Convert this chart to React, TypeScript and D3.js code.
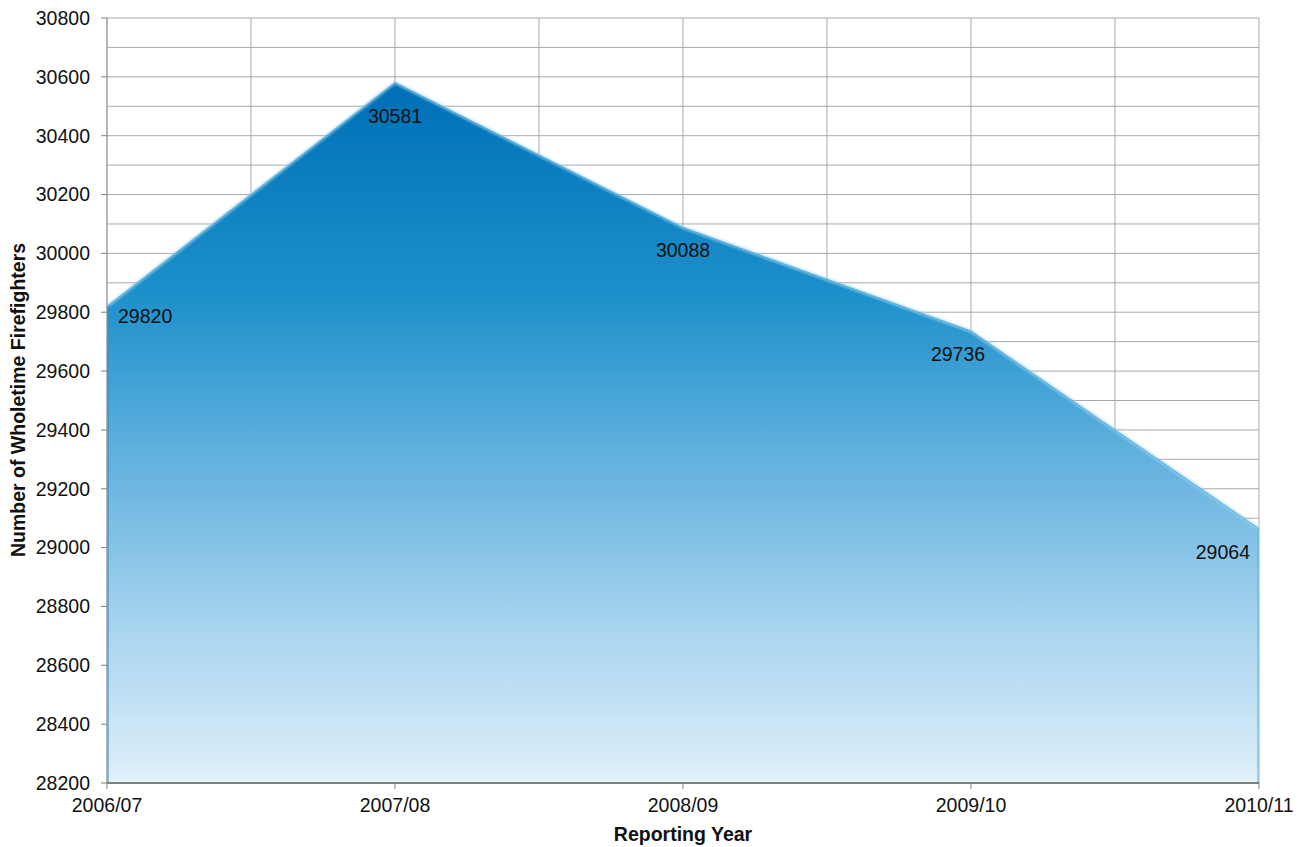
import React from "react";
import * as d3 from "d3";

const years = ["2006/07", "2007/08", "2008/09", "2009/10", "2010/11"];
const firefighters = [29820, 30581, 30088, 29736, 29064];
const yTicks = [28200, 28400, 28600, 28800, 29000, 29200, 29400, 29600, 29800, 30000, 30200, 30400, 30600, 30800];

const W = 1307;
const H = 847;
const M = { left: 107, right: 48, top: 18, bottom: 64 };
const FONT = "'Liberation Sans', Arial, sans-serif";
const FS = 19.5;

// label offsets (dx, dy from the point) and anchor per point
const labelPos: { dx: number; dy: number; anchor: "start" | "middle" | "end" }[] = [
  { dx: 11, dy: 10, anchor: "start" },
  { dx: 0, dy: 34, anchor: "middle" },
  { dx: 0, dy: 23, anchor: "middle" },
  { dx: -13, dy: 23, anchor: "middle" },
  { dx: -9, dy: 23, anchor: "end" },
];

export default function App() {
  const x = d3.scalePoint<string>().domain(years).range([M.left, W - M.right]);
  const y = d3.scaleLinear().domain([28200, 30800]).range([H - M.bottom, M.top]);
  const step = x.step();

  const pts = years.map((yr, i) => ({ yr, v: firefighters[i], px: x(yr)!, py: y(firefighters[i]) }));
  const area = d3
    .area<(typeof pts)[number]>()
    .x((d) => d.px)
    .y0(y(28200))
    .y1((d) => d.py)(pts)!;
  const topLine = d3
    .line<(typeof pts)[number]>()
    .x((d) => d.px)
    .y((d) => d.py)(pts)!;

  const minor = d3.range(28200, 30801, 100);
  const vGrid = d3.range(0, years.length * 2 - 1).map((k) => M.left + (k * step) / 2);
  const x0 = M.left;
  const x1 = W - M.right;
  const yb = y(28200);

  return (
    <svg width={W} height={H} style={{ position: "absolute", left: 0, top: 0, background: "#fff" }}>
      <defs>
        <linearGradient id="fillGrad" gradientUnits="userSpaceOnUse" x1={0} y1={y(30581)} x2={0} y2={yb}>
          <stop offset="0" stopColor="#006fb6" />
          <stop offset="0.3" stopColor="#1c90ca" />
          <stop offset="0.55" stopColor="#66b3df" />
          <stop offset="0.8" stopColor="#aed7f0" />
          <stop offset="0.97" stopColor="#d6ebf8" />
          <stop offset="1" stopColor="#e6f3fb" />
        </linearGradient>
        <filter id="soft" x="-5%" y="-5%" width="110%" height="110%">
          <feGaussianBlur stdDeviation="0.8" />
        </filter>
      </defs>

      {/* gridlines */}
      {minor.map((v) => (
        <line key={"h" + v} x1={x0} x2={x1} y1={y(v)} y2={y(v)} stroke="#a9a9a9" strokeWidth={1} />
      ))}
      {vGrid.map((gx, k) => (
        <line key={"v" + k} x1={gx} x2={gx} y1={M.top} y2={yb} stroke="#a9a9a9" strokeWidth={1} />
      ))}

      {/* area */}
      <path d={area} fill="url(#fillGrad)" />
      <path d={topLine} fill="none" stroke="#9fd6f3" strokeWidth={3} filter="url(#soft)" opacity={0.8} />
      <path d={topLine} fill="none" stroke="#3d9ccf" strokeWidth={1} opacity={0.7} />
      <line x1={x0 + 1} x2={x0 + 1} y1={y(29820)} y2={yb} stroke="#2a86bf" strokeWidth={2} opacity={0.5} />
      <line x1={x1 - 1} x2={x1 - 1} y1={y(29064)} y2={yb} stroke="#6fb5de" strokeWidth={2} opacity={0.6} />

      {/* axes */}
      <line x1={x0} x2={x1} y1={yb} y2={yb} stroke="#808080" strokeWidth={2} />
      <line x1={x0} x2={x0} y1={M.top} y2={yb} stroke="#999" strokeWidth={1} />
      {yTicks.map((v) => (
        <g key={"yt" + v}>
          <line x1={x0 - 6} x2={x0} y1={y(v)} y2={y(v)} stroke="#808080" />
          <text x={x0 - 17} y={y(v)} dy="0.35em" textAnchor="end" fontFamily={FONT} fontSize={FS} fill="#111">
            {v}
          </text>
        </g>
      ))}
      {years.map((yr) => (
        <g key={"xt" + yr}>
          <line x1={x(yr)} x2={x(yr)} y1={yb} y2={yb + 6} stroke="#808080" />
          <text x={x(yr)} y={yb + 22} dy="0.35em" textAnchor="middle" fontFamily={FONT} fontSize={FS} fill="#111">
            {yr}
          </text>
        </g>
      ))}

      {/* data labels */}
      {pts.map((d, i) => (
        <text
          key={"lb" + i}
          x={d.px + labelPos[i].dx}
          y={d.py + labelPos[i].dy}
          dy="0.35em"
          textAnchor={labelPos[i].anchor}
          fontFamily={FONT}
          fontSize={FS}
          fill="#111"
        >
          {d.v}
        </text>
      ))}

      {/* axis titles */}
      <text x={(x0 + x1) / 2} y={834} dy="0.35em" textAnchor="middle" fontFamily={FONT} fontSize={19.5} fontWeight="bold" fill="#111">
        Reporting Year
      </text>
      <text
        transform={`translate(18, 400) rotate(-90)`}
        dy="0.35em"
        textAnchor="middle"
        fontFamily={FONT}
        fontSize={19.5}
        fontWeight="bold"
        fill="#111"
      >
        Number of Wholetime Firefighters
      </text>
    </svg>
  );
}
